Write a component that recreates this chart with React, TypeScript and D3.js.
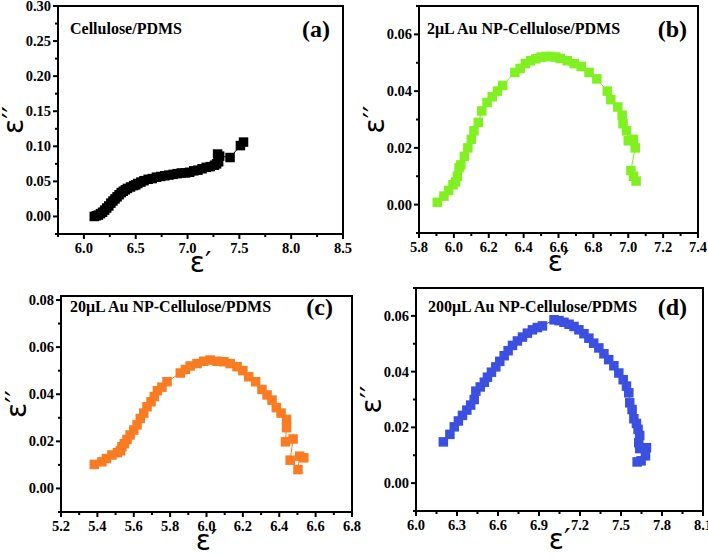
import React from "react";
import * as d3 from "d3";

// ---------- Panel (a) Cellulose/PDMS ----------
const aEpsReal = [6.10, 6.12, 6.14, 6.16, 6.18, 6.20, 6.22, 6.24, 6.26, 6.28, 6.30, 6.32, 6.34, 6.36, 6.38, 6.40, 6.42, 6.45, 6.48, 6.50, 6.52, 6.55, 6.58, 6.62, 6.66, 6.70, 6.74, 6.78, 6.82, 6.86, 6.90, 6.94, 6.98, 7.02, 7.06, 7.10, 7.14, 7.18, 7.22, 7.26, 7.28, 7.30, 7.29, 7.31, 7.41, 7.51, 7.54];
const aEpsImag = [0.000, 0.001, 0.002, 0.004, 0.006, 0.009, 0.012, 0.015, 0.019, 0.022, 0.025, 0.028, 0.031, 0.034, 0.036, 0.038, 0.040, 0.042, 0.044, 0.045, 0.047, 0.049, 0.051, 0.053, 0.054, 0.056, 0.057, 0.058, 0.059, 0.060, 0.061, 0.062, 0.062, 0.063, 0.065, 0.066, 0.068, 0.070, 0.071, 0.073, 0.075, 0.078, 0.089, 0.086, 0.084, 0.101, 0.106];
const aXTicks = [6.0, 6.5, 7.0, 7.5, 8.0, 8.5];
const aXMinor = [5.75, 6.25, 6.75, 7.25, 7.75, 8.25];
const aYTicks = [0.00, 0.05, 0.10, 0.15, 0.20, 0.25, 0.30];
const aYMinor = [-0.025, 0.025, 0.075, 0.125, 0.175, 0.225, 0.275];

// ---------- Panel (b) 2µL ----------
const bEpsReal = [5.905, 5.943, 5.97, 5.995, 6.01, 6.02, 6.03, 6.04, 6.06, 6.08, 6.10, 6.115, 6.14, 6.16, 6.19, 6.22, 6.25, 6.28, 6.35, 6.38, 6.41, 6.44, 6.47, 6.50, 6.53, 6.555, 6.585, 6.61, 6.65, 6.69, 6.73, 6.775, 6.82, 6.88, 6.90, 6.94, 6.965, 6.97, 6.99, 7.00, 7.03, 7.04, 7.015, 7.03, 7.045];
const bEpsImag = [0.0008, 0.003, 0.005, 0.007, 0.008, 0.010, 0.013, 0.014, 0.017, 0.020, 0.023, 0.026, 0.029, 0.033, 0.036, 0.038, 0.040, 0.042, 0.0466, 0.048, 0.0497, 0.0507, 0.0514, 0.052, 0.0522, 0.0522, 0.052, 0.0515, 0.0507, 0.0497, 0.0487, 0.0466, 0.0443, 0.040, 0.037, 0.0344, 0.0315, 0.0285, 0.026, 0.0225, 0.023, 0.020, 0.012, 0.010, 0.0083];
const bXTicks = [5.8, 6.0, 6.2, 6.4, 6.6, 6.8, 7.0, 7.2, 7.4];
const bXMinor = [5.9, 6.1, 6.3, 6.5, 6.7, 6.9, 7.1, 7.3];
const bYTicks = [0.00, 0.02, 0.04, 0.06];
const bYMinor = [-0.01, 0.01, 0.03, 0.05, 0.07];

// ---------- Panel (c) 20µL ----------
const cEpsReal = [5.383, 5.425, 5.45, 5.48, 5.51, 5.527, 5.535, 5.548, 5.563, 5.58, 5.60, 5.618, 5.636, 5.655, 5.673, 5.695, 5.713, 5.73, 5.755, 5.783, 5.856, 5.884, 5.91, 5.948, 5.985, 6.02, 6.058, 6.095, 6.13, 6.168, 6.20, 6.232, 6.27, 6.305, 6.333, 6.36, 6.384, 6.41, 6.44, 6.44, 6.434, 6.476, 6.46, 6.503, 6.512, 6.535];
const cEpsImag = [0.0102, 0.0113, 0.0127, 0.0142, 0.0152, 0.016, 0.0177, 0.019, 0.0208, 0.0227, 0.0248, 0.027, 0.0297, 0.032, 0.0347, 0.0368, 0.039, 0.0415, 0.043, 0.0453, 0.049, 0.0505, 0.052, 0.053, 0.054, 0.0545, 0.054, 0.0538, 0.053, 0.0517, 0.050, 0.0474, 0.0453, 0.042, 0.0397, 0.0375, 0.0343, 0.032, 0.0293, 0.0258, 0.0198, 0.021, 0.012, 0.008, 0.0137, 0.013];
const cXTicks = [5.2, 5.4, 5.6, 5.8, 6.0, 6.2, 6.4, 6.6, 6.8];
const cXMinor = [5.3, 5.5, 5.7, 5.9, 6.1, 6.3, 6.5, 6.7];
const cYTicks = [0.00, 0.02, 0.04, 0.06, 0.08];
const cYMinor = [-0.01, 0.01, 0.03, 0.05, 0.07];

// ---------- Panel (d) 200µL ----------
const dEpsReal = [6.20, 6.248, 6.28, 6.31, 6.34, 6.372, 6.40, 6.426, 6.438, 6.47, 6.50, 6.523, 6.552, 6.584, 6.613, 6.645, 6.674, 6.706, 6.742, 6.779, 6.815, 6.852, 6.888, 6.925, 7.01, 7.046, 7.083, 7.12, 7.156, 7.192, 7.229, 7.265, 7.30, 7.338, 7.375, 7.41, 7.448, 7.484, 7.516, 7.54, 7.557, 7.564, 7.581, 7.594, 7.613, 7.625, 7.637, 7.63, 7.637, 7.686, 7.679, 7.647, 7.618];
const dEpsImag = [0.0148, 0.0175, 0.0202, 0.0223, 0.0243, 0.0262, 0.028, 0.030, 0.033, 0.0345, 0.0362, 0.038, 0.0398, 0.0417, 0.0437, 0.0457, 0.0475, 0.0494, 0.051, 0.0524, 0.0538, 0.055, 0.0558, 0.0564, 0.0586, 0.0583, 0.0577, 0.057, 0.0562, 0.055, 0.0536, 0.052, 0.0502, 0.0485, 0.0464, 0.0443, 0.0421, 0.0395, 0.0371, 0.0348, 0.0324, 0.0288, 0.0264, 0.0231, 0.0214, 0.0193, 0.0171, 0.0145, 0.0124, 0.0127, 0.0098, 0.008, 0.0076];
const dXTicks = [6.0, 6.3, 6.6, 6.9, 7.2, 7.5, 7.8, 8.1];
const dXMinor = [6.15, 6.45, 6.75, 7.05, 7.35, 7.65, 7.95];
const dYTicks = [0.00, 0.02, 0.04, 0.06];
const dYMinor = [-0.01, 0.01, 0.03, 0.05, 0.07];

const FONT = "'Liberation Serif', 'Times New Roman', serif";
const GREEK = "'DejaVu Sans', sans-serif";

type PanelProps = {
  box: [number, number, number, number]; // left, right, top, bottom
  xDomain: [number, number];
  yDomain: [number, number];
  xTicks: number[];
  xMinor: number[];
  yTicks: number[];
  yMinor: number[];
  xDec: number;
  yDec: number;
  xs: number[];
  ys: number[];
  color: string;
  title: string;
  titleX: number;
  tag: string;
  tagRight: number;
  headY: number;
};

function Panel(p: PanelProps) {
  const [l, r, t, b] = p.box;
  const x = d3.scaleLinear().domain(p.xDomain).range([l, r]);
  const y = d3.scaleLinear().domain(p.yDomain).range([b, t]);
  const pts = p.xs.map((v, i) => [v, p.ys[i]] as [number, number]);
  const line = d3.line<[number, number]>().x((d) => x(d[0])).y((d) => y(d[1]));
  const ms = 9.5;
  return (
    <g>
      <path d={line(pts) || ""} fill="none" stroke={p.color} strokeWidth={1} />
      {pts.map((d, i) => (
        <rect key={i} x={x(d[0]) - ms / 2} y={y(d[1]) - ms / 2} width={ms} height={ms} fill={p.color} />
      ))}
      <rect x={l} y={t} width={r - l} height={b - t} fill="none" stroke="#000" strokeWidth={2} />
      {p.xTicks.map((v) => (
        <g key={"xt" + v}>
          <line x1={x(v)} x2={x(v)} y1={b} y2={b + 5} stroke="#000" strokeWidth={2} />
          <text x={x(v)} y={b + 19} textAnchor="middle" fontFamily={FONT} fontWeight="bold" fontSize={14.5}>
            {v.toFixed(p.xDec)}
          </text>
        </g>
      ))}
      {p.xMinor.map((v) => (
        <line key={"xm" + v} x1={x(v)} x2={x(v)} y1={b} y2={b + 3} stroke="#000" strokeWidth={2} />
      ))}
      {p.yTicks.map((v) => (
        <g key={"yt" + v}>
          <line x1={l - 5} x2={l} y1={y(v)} y2={y(v)} stroke="#000" strokeWidth={2} />
          <text x={l - 7} y={y(v) + 5} textAnchor="end" fontFamily={FONT} fontWeight="bold" fontSize={14.5}>
            {v.toFixed(p.yDec)}
          </text>
        </g>
      ))}
      {p.yMinor.map((v) => (
        <line key={"ym" + v} x1={l - 3} x2={l} y1={y(v)} y2={y(v)} stroke="#000" strokeWidth={2} />
      ))}
      <text x={(l + r) / 2} y={b + 38} textAnchor="middle" fontFamily={GREEK} fontSize={28}>
        {"ε′"}
      </text>
      <text
        transform={`translate(${l - 35},${(t + b) / 2}) rotate(-90)`}
        textAnchor="middle"
        fontFamily={GREEK}
        fontSize={28}
      >
        {"ε′′"}
      </text>
      <text x={p.titleX} y={p.headY + 6} fontFamily={FONT} fontWeight="bold" fontSize={16}>
        {p.title}
      </text>
      <text x={p.tagRight} y={p.headY + 9} textAnchor="end" fontFamily={FONT} fontWeight="bold" fontSize={24}>
        {p.tag}
      </text>
    </g>
  );
}

export default function App() {
  return (
    <svg
      width={708}
      height={557}
      style={{ position: "absolute", left: 0, top: 0, background: "#fff" }}
    >
      <rect x={0} y={0} width={708} height={557} fill="#fff" />
      <Panel
        box={[58, 343, 6, 234]}
        xDomain={[5.75, 8.5]}
        yDomain={[-0.025, 0.3]}
        xTicks={aXTicks}
        xMinor={aXMinor}
        yTicks={aYTicks}
        yMinor={aYMinor}
        xDec={1}
        yDec={2}
        xs={aEpsReal}
        ys={aEpsImag}
        color="#000000"
        title="Cellulose/PDMS"
        titleX={70}
        tag="(a)"
        tagRight={330}
        headY={28}
      />
      <Panel
        box={[419, 698, 6, 233]}
        xDomain={[5.8, 7.4]}
        yDomain={[-0.01, 0.07]}
        xTicks={bXTicks}
        xMinor={bXMinor}
        yTicks={bYTicks}
        yMinor={bYMinor}
        xDec={1}
        yDec={2}
        xs={bEpsReal}
        ys={bEpsImag}
        color="#80f020"
        title="2μL Au NP-Cellulose/PDMS"
        titleX={427}
        tag="(b)"
        tagRight={687}
        headY={28}
      />
      <Panel
        box={[61, 352, 296, 512]}
        xDomain={[5.2, 6.8]}
        yDomain={[-0.01, 0.0817]}
        xTicks={cXTicks}
        xMinor={cXMinor}
        yTicks={cYTicks}
        yMinor={cYMinor}
        xDec={1}
        yDec={2}
        xs={cEpsReal}
        ys={cEpsImag}
        color="#f97b22"
        title="20μL Au NP-Cellulose/PDMS"
        titleX={70}
        tag="(c)"
        tagRight={333}
        headY={306}
      />
      <Panel
        box={[416, 703, 288, 511]}
        xDomain={[6.0, 8.1]}
        yDomain={[-0.01, 0.07]}
        xTicks={dXTicks}
        xMinor={dXMinor}
        yTicks={dYTicks}
        yMinor={dYMinor}
        xDec={1}
        yDec={2}
        xs={dEpsReal}
        ys={dEpsImag}
        color="#3b4fe0"
        title="200μL Au NP-Cellulose/PDMS"
        titleX={428}
        tag="(d)"
        tagRight={687}
        headY={306}
      />
    </svg>
  );
}
